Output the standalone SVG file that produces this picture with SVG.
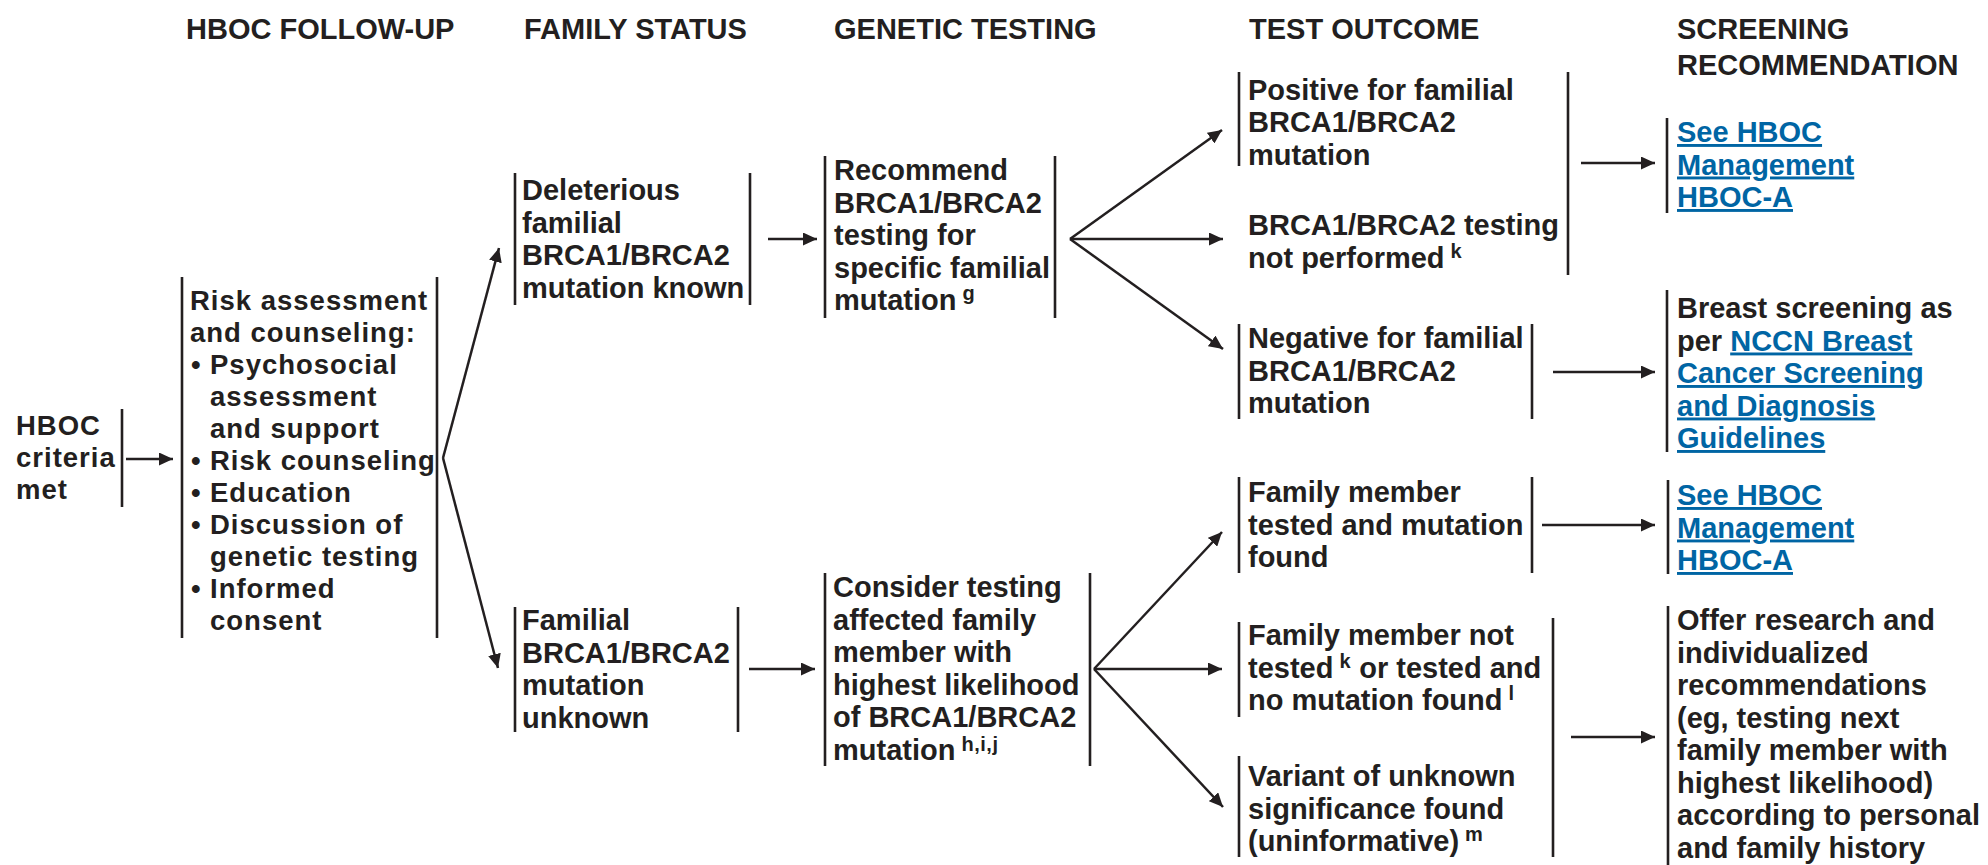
<svg xmlns="http://www.w3.org/2000/svg" width="1988" height="865" viewBox="0 0 1988 865">
<style>
.t{font-family:"Liberation Sans",Arial,Helvetica,sans-serif;font-weight:bold;font-size:29px;fill:#231f20}
.l{font-size:27.5px;letter-spacing:1px}
.nb{letter-spacing:0}
.sup{font-size:20px;letter-spacing:0.5px}
.lnk{fill:#0065a4;text-decoration:underline}
.bar{stroke:#231f20;stroke-width:2.6;fill:none}
.arr{stroke:#231f20;stroke-width:2.5;fill:none;marker-end:url(#ah)}
</style>
<defs>
<marker id="ah" markerUnits="userSpaceOnUse" markerWidth="14" markerHeight="13" viewBox="0 0 14 13" refX="14" refY="6.5" orient="auto">
<path d="M0,0 L14,6.5 L0,13 Z" fill="#231f20"/>
</marker>
</defs>
<rect width="1988" height="865" fill="#ffffff"/>

<g id="headers">
<text class="t" x="186" y="39">HBOC FOLLOW-UP</text>
<text class="t" x="524" y="39">FAMILY STATUS</text>
<text class="t" x="834" y="39">GENETIC TESTING</text>
<text class="t" x="1249" y="39">TEST OUTCOME</text>
<text class="t"><tspan x="1677" y="39">SCREENING</tspan><tspan x="1677" y="75">RECOMMENDATION</tspan></text>
</g>

<g id="criteria">
<text class="t l"><tspan x="16" y="435">HBOC</tspan><tspan x="16" y="467">criteria</tspan><tspan x="16" y="499">met</tspan></text>
<line class="bar" x1="122" y1="409" x2="122" y2="507"/>
</g>

<g id="risk">
<line class="bar" x1="182" y1="277" x2="182" y2="638"/>
<line class="bar" x1="437" y1="277" x2="437" y2="638"/>
<text class="t l">
<tspan x="190" y="310">Risk assessment</tspan>
<tspan x="190" y="342">and counseling:</tspan>
<tspan x="191" y="374" class="nb">•</tspan><tspan x="210" y="374">Psychosocial</tspan>
<tspan x="210" y="406">assessment</tspan>
<tspan x="210" y="438">and support</tspan>
<tspan x="191" y="470" class="nb">•</tspan><tspan x="210" y="470">Risk counseling</tspan>
<tspan x="191" y="502" class="nb">•</tspan><tspan x="210" y="502">Education</tspan>
<tspan x="191" y="534" class="nb">•</tspan><tspan x="210" y="534">Discussion of</tspan>
<tspan x="210" y="566">genetic testing</tspan>
<tspan x="191" y="598" class="nb">•</tspan><tspan x="210" y="598">Informed</tspan>
<tspan x="210" y="630">consent</tspan>
</text>
</g>

<g id="deleterious">
<line class="bar" x1="515" y1="173" x2="515" y2="305"/>
<line class="bar" x1="750" y1="173" x2="750" y2="305"/>
<text class="t"><tspan x="522" y="200">Deleterious</tspan><tspan x="522" y="232.5">familial</tspan><tspan x="522" y="265">BRCA1/BRCA2</tspan><tspan x="522" y="297.5">mutation known</tspan></text>
</g>

<g id="recommend">
<line class="bar" x1="825" y1="156" x2="825" y2="318"/>
<line class="bar" x1="1055" y1="156" x2="1055" y2="318"/>
<text class="t"><tspan x="834" y="180">Recommend</tspan><tspan x="834" y="212.5">BRCA1/BRCA2</tspan><tspan x="834" y="245">testing for</tspan><tspan x="834" y="277.5">specific familial</tspan><tspan x="834" y="310">mutation<tspan class="sup" dy="-10"> g</tspan></tspan></text>
</g>

<g id="familial-unknown">
<line class="bar" x1="515" y1="607" x2="515" y2="732"/>
<line class="bar" x1="738" y1="607" x2="738" y2="732"/>
<text class="t"><tspan x="522" y="630">Familial</tspan><tspan x="522" y="662.5">BRCA1/BRCA2</tspan><tspan x="522" y="695">mutation</tspan><tspan x="522" y="727.5">unknown</tspan></text>
</g>

<g id="consider">
<line class="bar" x1="825" y1="573" x2="825" y2="766"/>
<line class="bar" x1="1090" y1="573" x2="1090" y2="766"/>
<text class="t"><tspan x="833" y="597">Consider testing</tspan><tspan x="833" y="629.5">affected family</tspan><tspan x="833" y="662">member with</tspan><tspan x="833" y="694.5">highest likelihood</tspan><tspan x="833" y="727">of BRCA1/BRCA2</tspan><tspan x="833" y="759.5">mutation<tspan class="sup" dy="-9"> h,i,j</tspan></tspan></text>
</g>

<g id="positive">
<line class="bar" x1="1239" y1="72" x2="1239" y2="166"/>
<text class="t"><tspan x="1248" y="99.5">Positive for familial</tspan><tspan x="1248" y="132">BRCA1/BRCA2</tspan><tspan x="1248" y="164.5">mutation</tspan></text>
</g>

<g id="not-performed">
<text class="t"><tspan x="1248" y="235">BRCA1/BRCA2 testing</tspan><tspan x="1248" y="267.5">not performed<tspan class="sup" dy="-10"> k</tspan></tspan></text>
</g>

<g id="positive-group-bar">
<line class="bar" x1="1568" y1="72" x2="1568" y2="275"/>
</g>

<g id="negative">
<line class="bar" x1="1239" y1="324" x2="1239" y2="419"/>
<line class="bar" x1="1532" y1="324" x2="1532" y2="419"/>
<text class="t"><tspan x="1248" y="348">Negative for familial</tspan><tspan x="1248" y="380.5">BRCA1/BRCA2</tspan><tspan x="1248" y="413">mutation</tspan></text>
</g>

<g id="see-hboc-1">
<line class="bar" x1="1667" y1="118" x2="1667" y2="213"/>
<text class="t lnk"><tspan x="1677" y="142">See HBOC</tspan><tspan x="1677" y="174.5">Management</tspan><tspan x="1677" y="207">HBOC-A</tspan></text>
</g>

<g id="breast-screening">
<line class="bar" x1="1667" y1="290" x2="1667" y2="452"/>
<text class="t"><tspan x="1677" y="318">Breast screening as</tspan><tspan x="1677" y="350.5">per <tspan class="lnk">NCCN Breast</tspan></tspan><tspan x="1677" y="383" class="lnk">Cancer Screening</tspan><tspan x="1677" y="415.5" class="lnk">and Diagnosis</tspan><tspan x="1677" y="448" class="lnk">Guidelines</tspan></text>
</g>

<g id="member-found">
<line class="bar" x1="1239" y1="477" x2="1239" y2="573"/>
<line class="bar" x1="1532" y1="477" x2="1532" y2="573"/>
<text class="t"><tspan x="1248" y="502">Family member</tspan><tspan x="1248" y="534.5">tested and mutation</tspan><tspan x="1248" y="567">found</tspan></text>
</g>

<g id="see-hboc-2">
<line class="bar" x1="1668" y1="480" x2="1668" y2="574"/>
<text class="t lnk"><tspan x="1677" y="505">See HBOC</tspan><tspan x="1677" y="537.5">Management</tspan><tspan x="1677" y="570">HBOC-A</tspan></text>
</g>

<g id="not-tested">
<line class="bar" x1="1239" y1="622" x2="1239" y2="717"/>
<text class="t"><tspan x="1248" y="645">Family member not</tspan><tspan x="1248" y="677.5">tested<tspan class="sup" dy="-10"> k</tspan><tspan dy="10"> or tested and</tspan></tspan><tspan x="1248" y="710">no mutation found<tspan class="sup" dy="-10"> l</tspan></tspan></text>
</g>

<g id="variant">
<line class="bar" x1="1239" y1="756" x2="1239" y2="857"/>
<text class="t"><tspan x="1248" y="786">Variant of unknown</tspan><tspan x="1248" y="818.5">significance found</tspan><tspan x="1248" y="851">(uninformative)<tspan class="sup" dy="-10"> m</tspan></tspan></text>
</g>

<g id="bottom-group-bar">
<line class="bar" x1="1553" y1="618" x2="1553" y2="857"/>
</g>

<g id="offer">
<line class="bar" x1="1668" y1="606" x2="1668" y2="865"/>
<text class="t"><tspan x="1677" y="630">Offer research and</tspan><tspan x="1677" y="662.5">individualized</tspan><tspan x="1677" y="695">recommendations</tspan><tspan x="1677" y="727.5">(eg, testing next</tspan><tspan x="1677" y="760">family member with</tspan><tspan x="1677" y="792.5">highest likelihood)</tspan><tspan x="1677" y="825">according to personal</tspan><tspan x="1677" y="857.5">and family history</tspan></text>
</g>

<g id="connectors">
<line class="arr" x1="126" y1="459" x2="173" y2="459"/>
<line class="arr" x1="443" y1="458" x2="499" y2="248"/>
<line class="arr" x1="443" y1="458" x2="498" y2="668"/>
<line class="arr" x1="768" y1="239" x2="817" y2="239"/>
<line class="arr" x1="1070" y1="239" x2="1222" y2="130"/>
<line class="arr" x1="1070" y1="239" x2="1223" y2="239"/>
<line class="arr" x1="1070" y1="239" x2="1223" y2="349"/>
<line class="arr" x1="1581" y1="163" x2="1655" y2="163"/>
<line class="arr" x1="1553" y1="372" x2="1655" y2="372"/>
<line class="arr" x1="749" y1="669" x2="815" y2="669"/>
<line class="arr" x1="1094" y1="669" x2="1222" y2="532"/>
<line class="arr" x1="1094" y1="669" x2="1222" y2="669"/>
<line class="arr" x1="1094" y1="669" x2="1223" y2="807"/>
<line class="arr" x1="1542" y1="525" x2="1655" y2="525"/>
<line class="arr" x1="1571" y1="737" x2="1655" y2="737"/>
</g>
</svg>
